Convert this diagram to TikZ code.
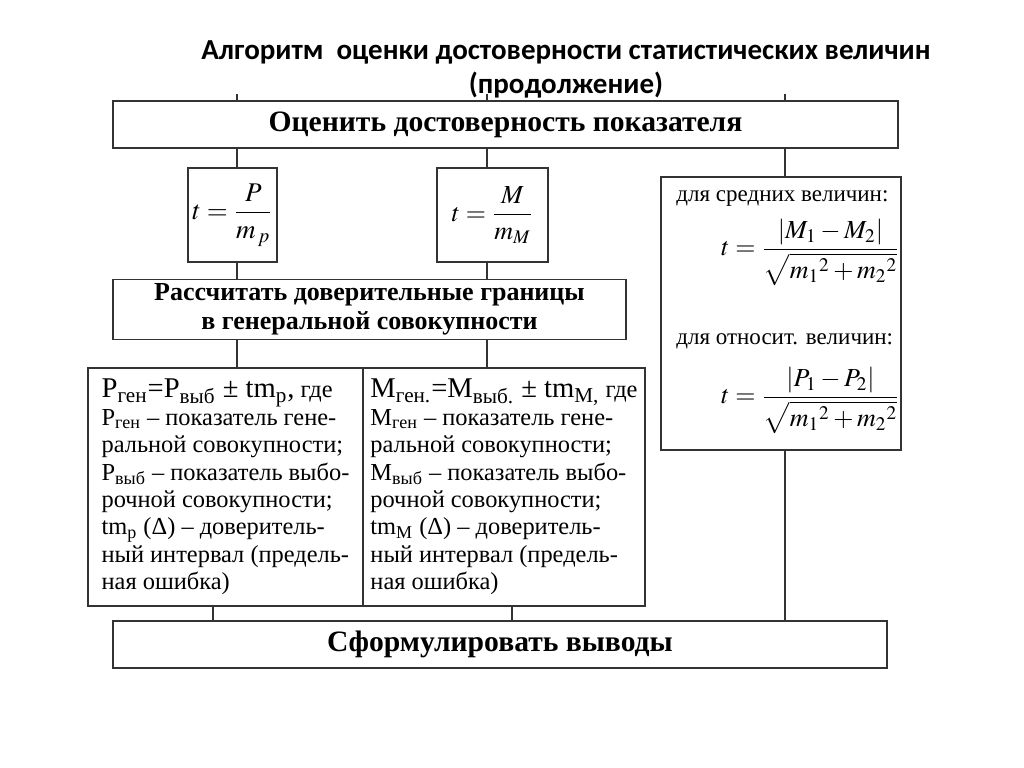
\documentclass[tikz,border=0pt]{standalone}
\usepackage{amsmath}
\usepackage{mathptmx}
\usepackage{fontspec}
\setmainfont{Liberation Serif}
\newfontfamily\titlefont{Carlito}

\begin{document}
\begin{tikzpicture}[
  x=0.5pt, y=-0.5pt,
  box/.style={draw=black!80, line width=0.8pt, inner sep=2pt},
  headbox/.style={box, font=\bfseries\fontsize{14.8}{16}\selectfont},
  textbox/.style={box, align=left, inner sep=2pt, font=\fontsize{12.2}{13.7}\selectfont},
  formula/.style={inner sep=0pt, font=\fontsize{13}{15}\selectfont},
  formtext/.style={inner sep=0pt, font=\fontsize{11.5}{13}\selectfont},
  link/.style={draw=black!80, line width=0.8pt}
]
\useasboundingbox (0,0) rectangle (1024,767);

\node[font=\titlefont\bfseries\fontsize{14.5}{17}\selectfont, align=center] (title) at (566,69)
  {Алгоритм\ \ оценки достоверности статистических величин\\(продолжение)};

\node[headbox, minimum width=392.5pt, minimum height=23.5pt] (ocenit) at (505.5,124.5)
  {Оценить достоверность показателя};
\node[box, formula, minimum width=44.5pt, minimum height=47pt,
  font=\fontsize{13.5}{15}\selectfont] (tp) at (232.5,215)
  {$t=\dfrac{P}{m_{\,p}}$};
\node[box, formula, minimum width=55.5pt, minimum height=47pt] (tm) at (492.5,215)
  {$t=\dfrac{M}{m_M}$};
\node[box, minimum width=120pt, minimum height=136.5pt] (tdiff) at (781,313.5) {};
\node[headbox, align=center, minimum width=256.5pt, minimum height=28.5pt,
  font=\bfseries\fontsize{13}{14.5}\selectfont] (rasch) at (369.5,309.5)
  {Рассчитать доверительные границы\\в генеральной совокупности};
\node[textbox, minimum width=137.5pt, minimum height=119pt] (pgen) at (225.5,487)
  {{\fontsize{14.3}{15}\selectfont P\textsubscript{ген}=P\textsubscript{выб} ± tm\textsubscript{p},} где\\
   P\textsubscript{ген} – показатель гене-\\
   ральной совокупности;\\
   P\textsubscript{выб} – показатель выбо-\\
   рочной совокупности;\\
   tm\textsubscript{p} (Δ) – доверитель-\\
   ный интервал (предель-\\
   ная ошибка)};
\node[textbox, minimum width=141pt, minimum height=119pt] (mgen) at (504,487)
  {{\fontsize{14.3}{15}\selectfont M\textsubscript{ген.}=M\textsubscript{выб.} ± tm\textsubscript{M,}} где\\
   M\textsubscript{ген} – показатель гене-\\
   ральной совокупности;\\
   M\textsubscript{выб} – показатель выбо-\\
   рочной совокупности;\\
   tm\textsubscript{M} (Δ) – доверитель-\\
   ный интервал (предель-\\
   ная ошибка)};
\node[headbox, minimum width=387pt, minimum height=23.5pt] (vyvod) at (500,644.5)
  {Сформулировать выводы};

\node[formtext, anchor=west] (srlabel) at (676,199) {для средних величин:};
\node[formula, anchor=east] (srform) at (900,252)
  {$t=\dfrac{\left|M_1-M_2\right|}{\sqrt{m_1{}^2+m_2{}^2}}$};
\node[formtext, anchor=west] (otlabel) at (676,341) {для относит. величин:};
\node[formula, anchor=east] (otform) at (900,400)
  {$t=\dfrac{\left|P_1-P_2\right|}{\sqrt{m_1{}^2+m_2{}^2}}$};

\coordinate (c1) at (237,0);
\coordinate (c2) at (487,0);
\coordinate (c3) at (785,0);
\coordinate (d1) at (213,0);
\coordinate (d2) at (512,0);
\coordinate (prev) at (0,94);

\foreach \c in {c1,c2,c3}
  \draw[link] (ocenit.north -| \c) -- (prev -| \c);
\draw[link] (ocenit.south -| c1) -- (tp.north -| c1);
\draw[link] (ocenit.south -| c2) -- (tm.north -| c2);
\draw[link] (ocenit.south -| c3) -- (tdiff.north -| c3);
\draw[link] (tp.south -| c1) -- (rasch.north -| c1);
\draw[link] (tm.south -| c2) -- (rasch.north -| c2);
\draw[link] (rasch.south -| c1) -- (pgen.north -| c1);
\draw[link] (rasch.south -| c2) -- (mgen.north -| c2);
\draw[link] (pgen.south -| d1) -- (vyvod.north -| d1);
\draw[link] (mgen.south -| d2) -- (vyvod.north -| d2);
\draw[link] (tdiff.south -| c3) -- (vyvod.north -| c3);
\end{tikzpicture}
\end{document}
